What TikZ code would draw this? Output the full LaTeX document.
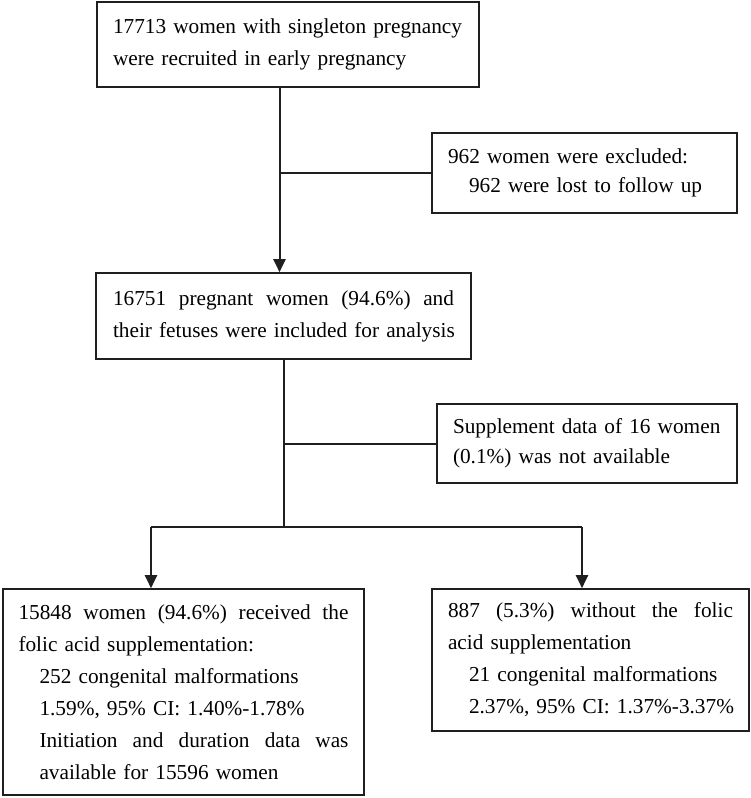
\documentclass[tikz,border=0pt]{standalone}
\usepackage{fontspec}
\setmainfont{Liberation Serif}
\usetikzlibrary{arrows.meta}
\tikzset{
  box/.style={draw=black!88, line width=1.6pt, rectangle, inner sep=0pt, align=left,
    font=\fontsize{21.3}{32}\selectfont},
  conn/.style={draw=black!88, line width=2pt},
  arr/.style={conn, -{Triangle[width=12pt,length=13pt]}}
}
\newcommand{\jline}[2]{\hbox to #1{\spaceskip=0.25em plus 1fil\relax #2}}
\newcommand{\nl}[1]{\mbox{#1}}
\newcommand{\ind}{\hspace*{21pt}}
\begin{document}
\begin{tikzpicture}[x=1pt,y=-1pt]
\useasboundingbox (0,0) rectangle (750,798);

\node[box, minimum width=382pt, minimum height=85pt, text width=350pt] (b1) at (288,44.5)
  {\nl{17713 women with singleton pregnancy}\\\nl{were recruited in early pregnancy}};

\node[box, minimum width=305pt, minimum height=80pt, text width=273pt,
  font=\fontsize{21.3}{29}\selectfont] (b2) at (584.5,173)
  {\nl{962 women were excluded:}\\\ind\nl{962 were lost to follow up}};

\node[box, minimum width=375pt, minimum height=86pt, text width=341pt] (b3) at (283.5,316)
  {\jline{341pt}{16751 pregnant women (94.6\%) and}\\\nl{their fetuses were included for analysis}};

\node[box, minimum width=300pt, minimum height=79pt, text width=268pt,
  font=\fontsize{21.3}{30}\selectfont] (b4) at (587,443.5)
  {\nl{Supplement data of 16 women}\\\nl{(0.1\%) was not available}};

\node[box, minimum width=361pt, minimum height=206pt, text width=330pt] (b5) at (183.5,692)
  {\jline{330pt}{15848 women (94.6\%) received the}\\
   \nl{folic acid supplementation:}\\
   \ind\nl{252 congenital malformations}\\
   \ind\nl{1.59\%, 95\% CI: 1.40\%-1.78\%}\\
   \ind\jline{309pt}{Initiation and duration data was}\\
   \ind\nl{available for 15596 women}};

\node[box, minimum width=317pt, minimum height=142pt, text width=285pt] (b6) at (590.5,660)
  {\jline{285pt}{887 (5.3\%) without the folic}\\
   \nl{acid supplementation}\\
   \ind\nl{21 congenital malformations}\\
   \ind\nl{2.37\%, 95\% CI: 1.37\%-3.37\%}};

\coordinate (x1) at (279.5,0);
\coordinate (a5) at (151,527);
\coordinate (a6) at (582,527);

\draw[arr] (b1.south -| x1) -- (b3.north -| x1);
\draw[conn] (x1 |- b2.west) -- (b2.west);
\draw[conn] (b3.south) -- (b3.south |- a5);
\draw[conn] (b3.south |- b4.west) -- (b4.west);
\draw[conn] (a5) -- (a6);
\draw[arr] (a5) -- (a5 |- b5.north);
\draw[arr] (a6) -- (a6 |- b6.north);
\end{tikzpicture}
\end{document}
